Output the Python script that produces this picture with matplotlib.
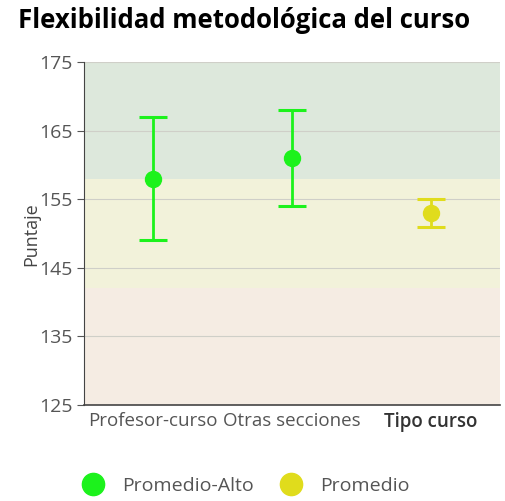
import matplotlib
matplotlib.use('Agg')
import matplotlib.pyplot as plt
from matplotlib.lines import Line2D

categories = ['Profesor-curso', 'Otras secciones', 'Tipo curso']
means = [158, 161, 153]
lower = [149, 154, 151]
upper = [167, 168, 155]
colors = ['#1cf21c', '#1cf21c', '#e0dc1c']
bands = [(125, 142, '#f5ece3'), (142, 158, '#f2f2da'), (158, 175, '#dde8dc')]
legend_labels = ['Promedio-Alto', 'Promedio']
legend_colors = ['#1cf21c', '#e0dc1c']

plt.rcParams['font.family'] = ['Open Sans', 'DejaVu Sans']

fig = plt.figure(figsize=(5.05, 5.01), dpi=100)
ax = fig.add_axes([84/505, 96/501, 416/505, 343/501])

for lo, hi, c in bands:
    ax.axhspan(lo, hi, color=c, zorder=0, lw=0)

for i in range(len(categories)):
    ax.errorbar(i, means[i], yerr=[[means[i]-lower[i]], [upper[i]-means[i]]],
                fmt='o', color=colors[i], ms=11.5, elinewidth=2, capsize=10,
                capthick=2.2, zorder=3)

ax.set_xlim(-0.5, 2.5)
ax.set_ylim(125, 175)
ax.set_yticks([125, 135, 145, 155, 165, 175])
ax.yaxis.grid(True, color='#cfcfc8', lw=0.8, zorder=1)
ax.set_axisbelow(True)
ax.set_xticks(range(3))
ax.set_xticklabels(categories, fontsize=13.5, color='#555555')
ax.get_xticklabels()[2].set_color('#333333')
ax.get_xticklabels()[2].set_fontweight('semibold')
ax.tick_params(axis='x', length=0, pad=5)
ax.tick_params(axis='y', labelsize=14, labelcolor='#555555', color='#555555', length=5, pad=3)
for s in ['top', 'right']:
    ax.spines[s].set_visible(False)
ax.spines['left'].set_color('#444444')
ax.spines['bottom'].set_color('#444444')
ax.spines['bottom'].set_linewidth(1.2)

fig.text(31/505, 1 - 234/501, 'Puntaje', rotation=90, ha='center', va='center',
         fontsize=13, color='#444444')
fig.text(18/505, 1 - 20/501, 'Flexibilidad metodológica del curso',
         fontsize=18.5, fontweight='bold', ha='left', va='center')

handles = [Line2D([], [], marker='o', ls='', color=c, ms=16) for c in legend_colors]
fig.legend(handles, legend_labels, loc='center left', bbox_to_anchor=(60/505, 1 - 486/501),
           ncol=2, frameon=False, fontsize=14, handletextpad=0.7, columnspacing=1.1,
           handlelength=1.6, labelcolor='#555555')

fig.savefig('out.png', dpi=100)
